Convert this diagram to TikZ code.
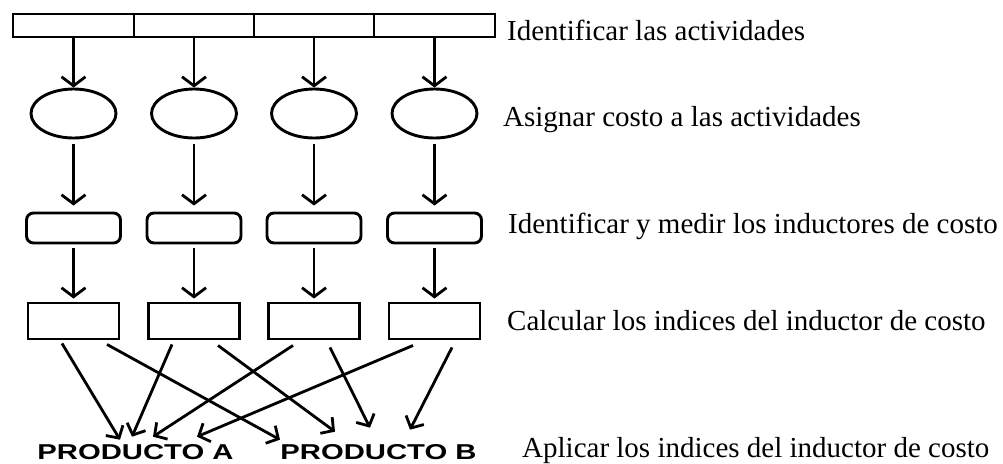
\documentclass[tikz,border=0pt]{standalone}
\usepackage{fontspec}
\setmainfont{Liberation Serif}
\newfontfamily\prodfont{Liberation Sans}
\usetikzlibrary{arrows.meta,shapes.geometric}
\begin{document}
\begin{tikzpicture}[x=1pt,y=-1pt,
  box/.style={draw,line width=2.9pt,inner sep=0pt,minimum height=23pt},
  oval/.style={draw,ellipse,line width=2.9pt,inner sep=0pt,minimum width=85pt,minimum height=49pt},
  rbox/.style={draw,rounded corners=7pt,line width=2.9pt,inner sep=0pt,minimum width=94pt,minimum height=30pt},
  sbox/.style={draw,line width=2.9pt,inner sep=0pt,minimum width=91pt,minimum height=36pt},
  arr/.style={line width=2.8pt,-{Straight Barb[length=9pt,width=24pt,line width=2.8pt]}},
  arrb/.style={line width=2.8pt,-{Straight Barb[length=9pt,width=20pt,line width=2.8pt]}},
  lbl/.style={anchor=base west,inner sep=0pt,font=\fontsize{29}{34}\selectfont},
  prod/.style={inner sep=0pt,font=\fontsize{21.5}{24}\selectfont\prodfont\bfseries}]
\useasboundingbox (0,0) rectangle (1003,463);
% top bar
\node[box,minimum width=121pt] (t1) at (73.5,25.5) {};
\node[box,minimum width=120pt] (t2) at (194,25.5) {};
\node[box,minimum width=120pt] (t3) at (314,25.5) {};
\node[box,minimum width=121pt] (t4) at (434.5,25.5) {};
% ellipses
\node[oval] (e1) at (73.5,113.5) {};
\node[oval] (e2) at (194,113.5) {};
\node[oval] (e3) at (314,113.5) {};
\node[oval] (e4) at (434.5,113.5) {};
% rounded boxes
\node[rbox] (r1) at (73.5,228) {};
\node[rbox] (r2) at (194,228) {};
\node[rbox] (r3) at (314,228) {};
\node[rbox] (r4) at (434.5,228) {};
% boxes
\node[sbox] (s1) at (73.5,321) {};
\node[sbox] (s2) at (194,321) {};
\node[sbox] (s3) at (314,321) {};
\node[sbox] (s4) at (434.5,321) {};
% products
\node[prod] (pa) at (135.5,452.5) {\scalebox{1.36}[1]{PRODUCTO A}};
\node[prod] (pb) at (378.5,452.5) {\scalebox{1.36}[1]{PRODUCTO B}};
% vertical arrows
\foreach \i in {1,2,3,4}{
  \draw[arr] (t\i.south) -- (e\i.north);
  \draw[arr,shorten <=5pt,shorten >=6pt] (e\i.south) -- (r\i.north);
  \draw[arr,shorten <=4pt,shorten >=3pt] (r\i.south) -- (s\i.north);
}
% crossing arrows
\draw[arrb] ([xshift=-11.5pt,yshift=-3pt]s1.south) -- ([xshift=-15.5pt,yshift=5pt]pa.north);
\draw[arrb] ([xshift=33.5pt,yshift=-4pt]s1.south) -- ([xshift=-98.5pt,yshift=5pt]pb.north);
\draw[arrb] ([xshift=-22pt,yshift=-4pt]s2.south) -- ([xshift=-3.5pt,yshift=8pt]pa.north);
\draw[arrb] ([xshift=24pt,yshift=-5pt]s2.south) -- ([xshift=-43.5pt,yshift=13pt]pb.north);
\draw[arrb] ([xshift=-21pt,yshift=-5pt]s3.south) -- ([xshift=17.5pt,yshift=8pt]pa.north);
\draw[arrb] ([xshift=16pt,yshift=-7pt]s3.south) -- ([xshift=-8.5pt,yshift=17pt]pb.north);
\draw[arrb] ([xshift=-21.5pt,yshift=-5pt]s4.south) -- ([xshift=61.5pt,yshift=8pt]pa.north);
\draw[arrb] ([xshift=17.5pt,yshift=-7pt]s4.south) -- ([xshift=31.5pt,yshift=15pt]pb.north);
% labels
\node[lbl] (l1) at (507,40) {Identificar las actividades};
\node[lbl] (l2) at (503,126) {Asignar costo a las actividades};
\node[lbl] (l3) at (508,233) {Identificar y medir los inductores de costo};
\node[lbl] (l4) at (507,330) {Calcular los indices del inductor de costo};
\node[lbl] (l5) at (522,457) {Aplicar los indices del inductor de costo};
\end{tikzpicture}
\end{document}
